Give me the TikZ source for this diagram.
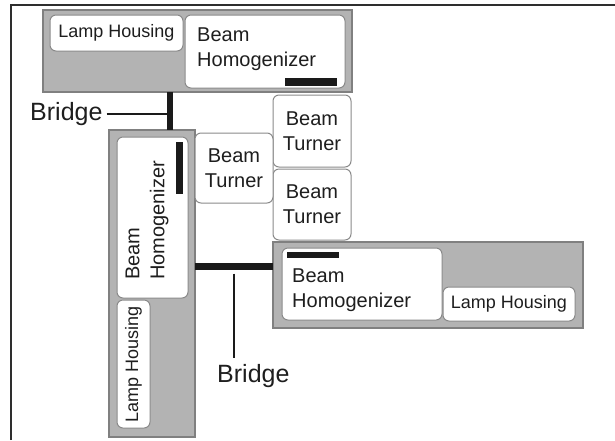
\documentclass[tikz,border=0pt]{standalone}
\usepackage{fontspec}
\setmainfont{Liberation Sans}
\definecolor{asmgray}{HTML}{B3B3B3}
\definecolor{asmedge}{HTML}{808080}
\definecolor{partedge}{HTML}{8A8A8A}
\definecolor{barblack}{HTML}{1A1A1A}
\definecolor{textc}{HTML}{1E1E1E}
\definecolor{framec}{HTML}{2E2E2E}
\tikzset{
  assembly/.style={rectangle, fill=asmgray, draw=asmedge, line width=2pt, inner sep=0pt},
  part/.style={rectangle, fill=white, draw=partedge, line width=1pt, rounded corners=6pt, inner sep=0pt},
  barbox/.style={rectangle, fill=barblack, draw=none, inner sep=0pt},
  txt/.style={text=textc, inner sep=0pt, font=\fontsize{20}{25}\selectfont},
  smalltxt/.style={text=textc, inner sep=0pt, font=\fontsize{18}{22}\selectfont},
  bridgelbl/.style={text=textc, inner sep=1pt, font=\fontsize{25}{30}\selectfont},
  connector/.style={draw=barblack, line width=2pt}
}
\begin{document}
\begin{tikzpicture}[x=1pt,y=-1pt]
\useasboundingbox (0,0) rectangle (615,440);
% frame
\draw[framec, line width=2pt] (11,440) -- (11,5) -- (615,5);

% top assembly
\node[assembly, minimum width=309pt, minimum height=82pt] (asmT) at (197.5,51) {};
\node[part, minimum width=133pt, minimum height=36pt] (lhT) at (116.5,33) {};
\node[smalltxt] (lhTt) at (lhT.center) {Lamp Housing};
\node[part, minimum width=160pt, minimum height=73pt] (bhT) at (265,51.5) {};
\node[txt, align=left, anchor=north west] (bhTt) at (197,27.5) {Beam\\Homogenizer};
\node[barbox, minimum width=52pt, minimum height=8pt] (barT) at (311,82) {};

% left assembly
\node[assembly, minimum width=86pt, minimum height=307pt] (asmL) at (152,283.5) {};
\node[part, minimum width=71pt, minimum height=161pt] (bhL) at (152.5,217.5) {};
\node[txt, align=left, rotate=90] (bhLt) at (147,220.5) {Beam\\Homogenizer};
\node[barbox, minimum width=7pt, minimum height=52pt] (barL) at (179.5,168) {};
\node[part, minimum width=33pt, minimum height=128pt] (lhL) at (133.5,364) {};
\node[smalltxt, rotate=90] (lhLt) at (lhL.center) {Lamp Housing};

% right assembly
\node[assembly, minimum width=310pt, minimum height=86pt] (asmR) at (428,285) {};
\node[part, minimum width=160pt, minimum height=72pt] (bhR) at (362,284) {};
\node[txt, align=left, anchor=north west] (bhRt) at (292,268.5) {Beam\\Homogenizer};
\node[barbox, minimum width=52pt, minimum height=6pt] (barR) at (313,254.5) {};
\node[part, minimum width=132pt, minimum height=34pt] (lhR) at (509,304) {};
\node[smalltxt] (lhRt) at (lhR.center) {Lamp Housing};

% beam turners
\node[part, minimum width=78pt, minimum height=72pt, txt, align=center] (bt1) at (312,131) {Beam\\Turner};
\node[part, minimum width=78pt, minimum height=71pt, txt, align=center] (bt2) at (312,204.5) {Beam\\Turner};
\node[part, minimum width=78pt, minimum height=70pt, txt, align=center] (bt3) at (234,168) {Beam\\Turner};

% bridges
\node[barbox, minimum width=6pt, minimum height=38pt] (brT) at (170,111) {};
\node[barbox, minimum width=78pt, minimum height=7pt] (brL) at (234,266) {};

% labels
\node[bridgelbl, anchor=base west] (lblT) at (29,120) {Bridge};
\node[bridgelbl, anchor=base west] (lblL) at (216,382) {Bridge};
\draw[connector] ([xshift=3pt]lblT.east) -- (lblT.east -| brT.west);
\draw[connector] ([yshift=-4pt]brL.south) -- ([yshift=5pt]lblL.north -| brL.south);
\end{tikzpicture}
\end{document}
